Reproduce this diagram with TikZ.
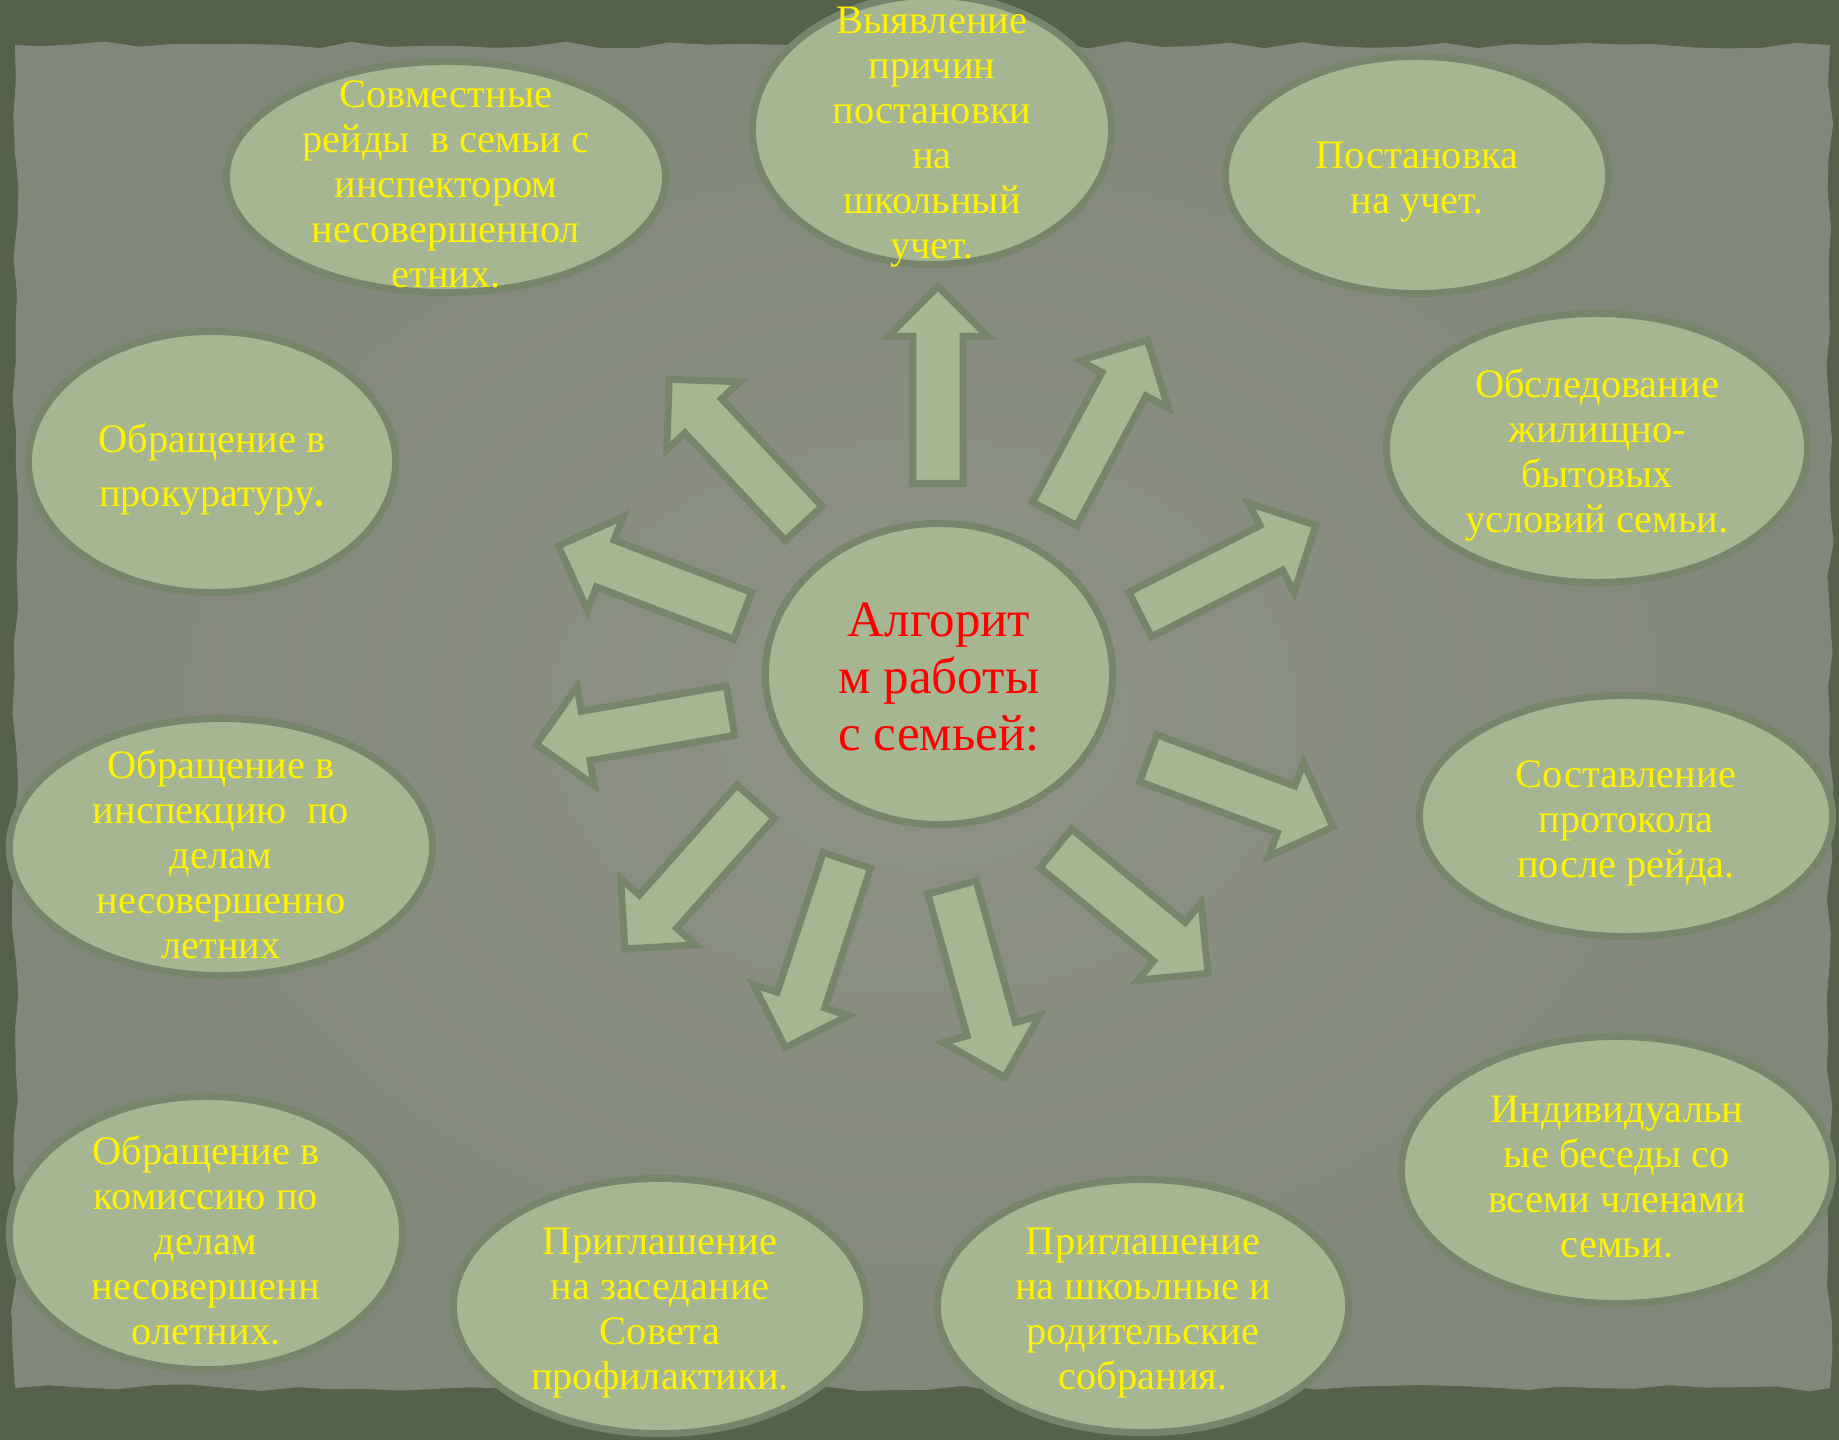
\documentclass[tikz,border=0pt]{standalone}
\usepackage{fontspec}
\setmainfont{Liberation Serif}
\usetikzlibrary{shapes.geometric,shapes.arrows,decorations.pathmorphing}

\definecolor{frame}{RGB}{86,97,74}
\definecolor{paper}{RGB}{130,136,121}
\definecolor{paperlight}{RGB}{142,147,134}
\definecolor{leaf}{RGB}{166,181,146}
\definecolor{rim}{RGB}{119,134,106}

\begin{document}
\begin{tikzpicture}[x=0.01cm, y=-0.01cm]

% Set the size of the slide and its rough paper
\useasboundingbox (0,0) rectangle (1839,1440);
\pgfmathsetseed{7}
\tikzstyle{paperedge} = [decorate, decoration={random steps, segment length=10pt, amplitude=1pt}]

% Define styles for ovals and their texts
\tikzstyle{oval} = [ellipse, fill=leaf, draw=rim, line width=2pt, inner sep=0pt]
\tikzstyle{txt} = [align=center, text=yellow, yshift=-0.07cm, font=\fontsize{11.5}{12.8}\selectfont]

%Define the thick arrows around the centre
\tikzstyle{bigarrow} = [single arrow, fill=leaf, draw=rim, line width=2pt, minimum width=0pt,
  inner sep=0pt, inner ysep=0.215cm, single arrow head extend=0.25cm, minimum height=1.97cm, anchor=tail]

\fill[frame] (0,0) rectangle (1839,1440);
\shade[paperedge, inner color=paperlight, outer color=paper] (15,45) rectangle (1830,1388);

% centre
\node[oval, minimum width=3.47cm, minimum height=3.01cm] (algo) at (939,674) {};
\node[align=center, text=red, yshift=-0.03cm, font=\fontsize{14.5}{16.2}\selectfont] (algoT) at (algo) {Алгорит\\м работы\\с семьей:};

% ovals round it
\node[oval, minimum width=3.59cm, minimum height=2.69cm] (vyyavl) at (932,130) {};
\node[txt] (vyyavlT) at (vyyavl) {Выявление\\причин\\постановки\\на\\школьный\\учет.};

\node[oval, minimum width=4.39cm, minimum height=2.31cm] (reidy) at (446,177) {};
\node[txt] (reidyT) at (reidy) {Совместные\\рейды~ в семьи с\\инспектором\\несовершеннол\\етних.};

\node[oval, minimum width=3.83cm, minimum height=2.37cm] (uchet) at (1417,175) {};
\node[txt] (uchetT) at (uchet) {Постановка\\на учет.};

\node[oval, minimum width=3.67cm, minimum height=2.61cm] (prokur) at (212,462) {};
\node[txt] (prokurT) at (prokur) {Обращение в\\[2.6pt]прокуратуру{\bfseries .}};

\node[oval, minimum width=4.21cm, minimum height=2.69cm] (obsled) at (1597,448) {};
\node[txt] (obsledT) at (obsled) {Обследование\\жилищно-\\бытовых\\условий семьи.};

\node[oval, minimum width=4.23cm, minimum height=2.57cm] (inspek) at (221,847) {};
\node[txt] (inspekT) at (inspek) {Обращение в\\инспекцию~ по\\делам\\несовершенно\\летних};

\node[oval, minimum width=4.13cm, minimum height=2.41cm] (protokol) at (1626,816) {};
\node[txt] (protokolT) at (protokol) {Составление\\протокола\\после рейда.};

\node[oval, minimum width=3.93cm, minimum height=2.73cm] (komiss) at (206,1233) {};
\node[txt] (komissT) at (komiss) {Обращение в\\комиссию по\\делам\\несовершенн\\олетних.};

\node[oval, minimum width=4.13cm, minimum height=2.55cm] (sovet) at (660,1306) {};
\node[txt] (sovetT) at (sovet) {Приглашение\\на заседание\\Совета\\профилактики.};

\node[oval, minimum width=4.11cm, minimum height=2.53cm] (sobran) at (1143,1306) {};
\node[txt] (sobranT) at (sobran) {Приглашение\\на шкоьлные и\\родительские\\собрания.};

\node[oval, minimum width=4.31cm, minimum height=2.67cm] (besedy) at (1617,1170) {};
\node[txt] (besedyT) at (besedy) {Индивидуальн\\ые беседы со\\всеми членами\\семьи.};

% arrows, placed by their tails
\node[bigarrow, rotate=90] (ar1) at (938,487) {};
\node[bigarrow, rotate=61.9] (ar2) at (1053,517) {};
\node[bigarrow, rotate=26.9] (ar3) at (1137,616) {};
\node[bigarrow, rotate=-20.4] (ar4) at (1145,757) {};
\node[bigarrow, rotate=-39.4] (ar5) at (1053,846) {};
\node[bigarrow, rotate=-74.5] (ar6) at (951,884) {};
\node[bigarrow, rotate=-108.2] (ar7) at (848,857) {};
\node[bigarrow, rotate=-131.6] (ar8) at (758,799) {};
\node[bigarrow, rotate=-170.1] (ar9) at (734,710) {};
\node[bigarrow, rotate=159.2] (ar10) at (746,617) {};
\node[bigarrow, rotate=133] (ar11) at (806,526) {};

\end{tikzpicture}
\end{document}
